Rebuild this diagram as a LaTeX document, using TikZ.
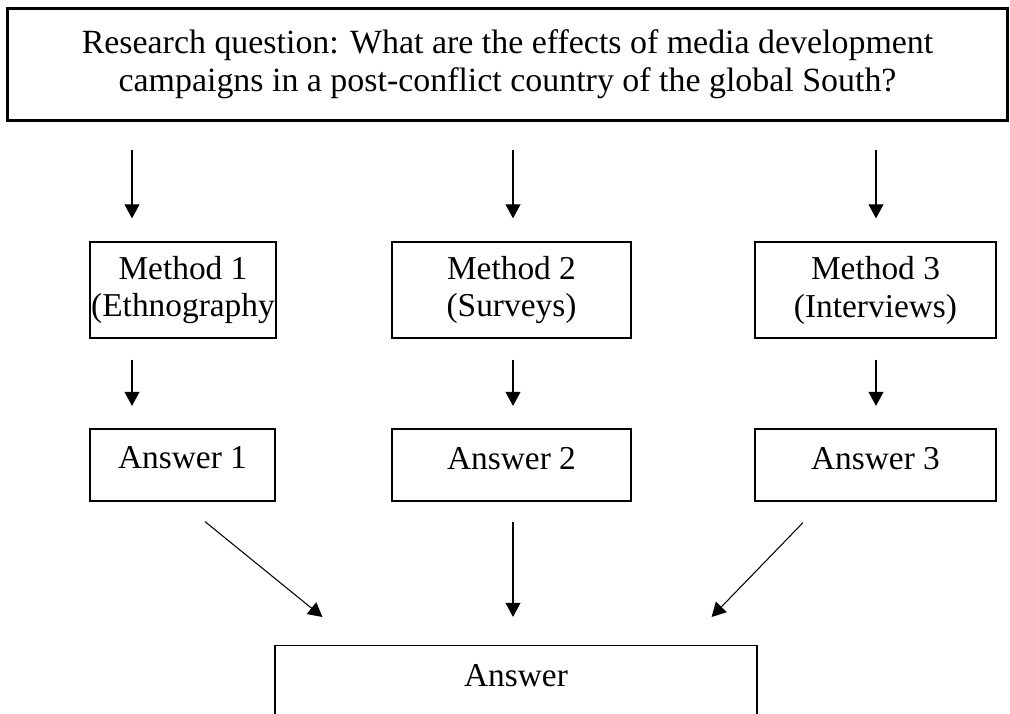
\documentclass[tikz,border=0pt]{standalone}
\usepackage{fontspec}
\setmainfont{Liberation Serif}
\usetikzlibrary{arrows.meta}
\tikzstyle{question} = [rectangle, minimum width = 20.02cm, minimum height = 2.26cm,
	align = center, line width = 1.7pt, draw = black]
\tikzstyle{method} = [rectangle, minimum height = 1.92cm, inner xsep = 0pt,
	align = center, line width = 0.7pt, draw = black]
\tikzstyle{answer} = [rectangle, minimum height = 1.44cm, inner xsep = 0pt,
	text depth = 8pt, align = center, line width = 0.7pt, draw = black]
\tikzstyle{arrow} = [-{Triangle[length = 8pt, width = 8.5pt]}, line width = 0.6pt]

\begin{document}
\begin{tikzpicture}[x = 0.02cm, y = -0.02cm, font = \fontsize{19}{21.6}\selectfont]

\useasboundingbox (0,0) rectangle (1010,713);
\clip (0,0) rectangle (1010,713);

\node (question) [question, font = \fontsize{19.3}{21.6}\selectfont] at (507.5,64.5)
	{Research question: What are the effects of media development\\
	campaigns in a post-conflict country of the global South?};

\node (method1) [method, minimum width = 3.72cm] at (183,290) {Method 1\\(Ethnography};
\node (method2) [method, minimum width = 4.78cm] at (511.5,290) {Method 2\\(Surveys)};
\node (method3) [method, minimum width = 4.82cm] at (875.5,290) {Method 3\\(Interviews)};

\node (answer1) [answer, minimum width = 3.7cm] at (182.5,465) {Answer 1};
\node (answer2) [answer, minimum width = 4.78cm] at (511.5,465) {Answer 2};
\node (answer3) [answer, minimum width = 4.82cm] at (875.5,465) {Answer 3};

\node (final) [answer, minimum width = 9.64cm, anchor = north, inner ysep = 0pt,
	text height = 23pt, text depth = 57pt] at (516,645) {Answer};

\coordinate (left) at (132,0);
\coordinate (mid) at (513,0);
\coordinate (right) at (876,0);

% question -> methods
\draw [arrow, shorten <= 15.4pt, shorten >= 13.1pt] (question.south -| left) -- (method1.north -| left);
\draw [arrow, shorten <= 15.4pt, shorten >= 13.1pt] (question.south -| mid) -- (method2.north -| mid);
\draw [arrow, shorten <= 15.4pt, shorten >= 13.1pt] (question.south -| right) -- (method3.north -| right);

% methods -> answers
\draw [arrow, shorten <= 12pt, shorten >= 12.8pt] (method1.south -| left) -- (answer1.north -| left);
\draw [arrow, shorten <= 12pt, shorten >= 12.8pt] (method2.south -| mid) -- (answer2.north -| mid);
\draw [arrow, shorten <= 12pt, shorten >= 12.8pt] (method3.south -| right) -- (answer3.north -| right);

% answers -> answer
\draw [arrow] ([shift = {(22.5,20)}]answer1.south) -- ([shift = {(48,-28)}]final.north west);
\draw [arrow, shorten <= 11.4pt, shorten >= 16pt] (answer2.south -| mid) -- (final.north -| mid);
\draw [arrow] ([shift = {(-72.5,21)}]answer3.south) -- ([shift = {(-46,-28)}]final.north east);

\end{tikzpicture}
\end{document}
